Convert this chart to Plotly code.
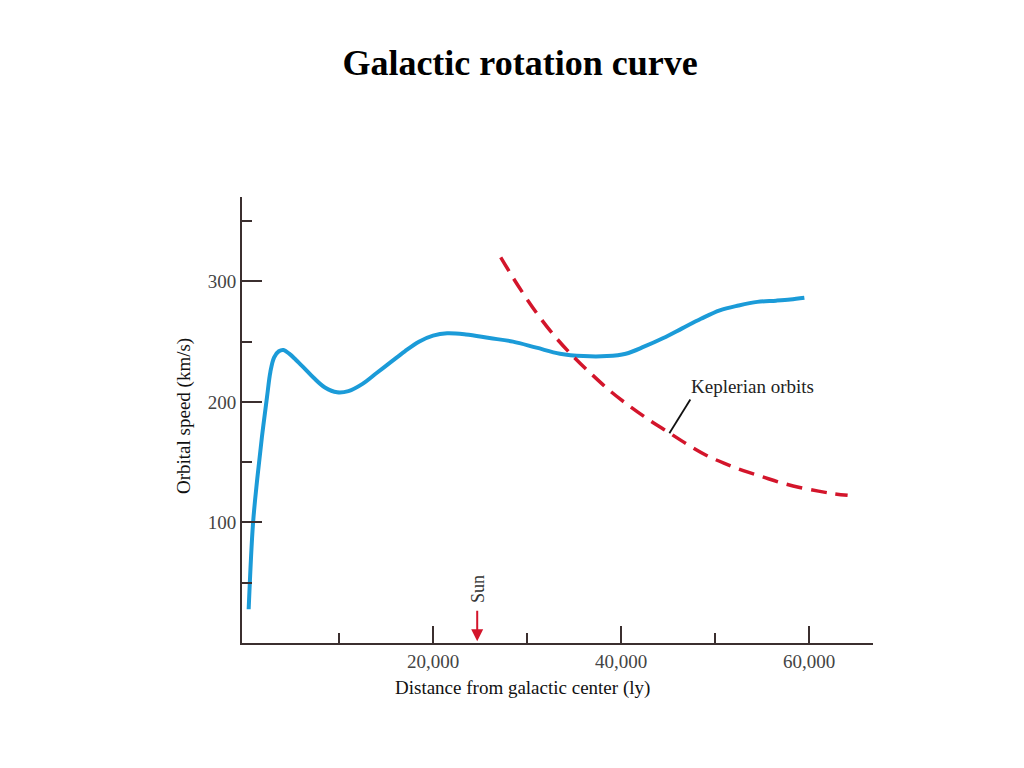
import plotly.graph_objects as go

# Observed rotation curve (distance in ly, speed in km/s)
obs_x = [390, 850, 1300, 1800, 2340, 2700, 3100, 3600, 4100, 4700, 5400, 6300, 7300,
         8500, 9800, 11000, 12500, 14000, 15500, 17000, 18500, 20000, 21500, 23500,
         26000, 28500, 31000, 33500, 36000, 38500, 40500, 42500, 44500, 46500, 48500,
         50500, 52500, 54500, 56500, 58000, 59500]
obs_v = [28, 99, 136, 171, 204, 225, 237, 242, 243, 240, 235, 228, 220,
         212, 208, 209, 215, 224, 233, 242, 250, 255, 257, 256,
         253, 250, 245, 240, 238, 238, 240, 246, 253, 261, 269,
         276, 280, 283, 284, 285, 286.5]

# Keplerian prediction
kep_x = [27200, 29000, 31000, 33000, 35000, 37000, 39000, 41000, 43000, 45000, 47000,
         49000, 51000, 53000, 55000, 57000, 59000, 61000, 62500, 64100]
kep_v = [320, 297, 274, 254, 237, 222, 208, 196, 185, 175, 165,
         156, 149, 143, 138, 133, 129, 126, 124, 122.5]

x_major = [20000, 40000, 60000]
x_major_labels = ["20,000", "40,000", "60,000"]
x_minor = [10000, 30000, 50000]
y_major = [100, 200, 300]
y_minor = [50, 150, 250, 350]

sun_x = 24700

SERIF = "Liberation Serif, Times New Roman, serif"
AXC = "#3b2f2f"

fig = go.Figure()
fig.add_trace(go.Scatter(x=obs_x, y=obs_v, mode="lines", line_shape="spline",
                         line=dict(color="#1b9bd8", width=4, smoothing=1),
                         hoverinfo="skip", showlegend=False))
fig.add_trace(go.Scatter(x=kep_x, y=kep_v, mode="lines", line_shape="spline",
                         line=dict(color="#d3152b", width=3.5, dash="16px,9px"),
                         hoverinfo="skip", showlegend=False))

fig.update_layout(
    width=1024, height=768,
    margin=dict(l=234, r=159, t=189, b=133),
    paper_bgcolor="white", plot_bgcolor="white",
    title=dict(text="<b>Galactic rotation curve</b>", x=0.5, xanchor="center",
               y=1 - 54 / 768, yanchor="middle", yref="container",
               font=dict(family=SERIF, size=36, color="black")),
)

fig.update_xaxes(range=[-320, 66800], showgrid=False, zeroline=False,
                 showline=True, linecolor=AXC, linewidth=2,
                 tickmode="array", tickvals=x_major, ticktext=x_major_labels,
                 ticks="inside", ticklen=17, tickwidth=2, tickcolor=AXC,
                 tickfont=dict(family=SERIF, size=19, color="#444"),
                 minor=dict(tickmode="array", tickvals=x_minor, ticks="inside",
                            ticklen=10, tickwidth=2, tickcolor=AXC),
                 fixedrange=True)
fig.update_yaxes(range=[0, 370], showgrid=False, zeroline=False,
                 showline=True, linecolor=AXC, linewidth=2,
                 tickmode="array", tickvals=y_major,
                 ticks="inside", ticklen=20, tickwidth=2, tickcolor=AXC,
                 tickfont=dict(family=SERIF, size=19, color="#444"),
                 minor=dict(tickmode="array", tickvals=y_minor, ticks="inside",
                            ticklen=10, tickwidth=2, tickcolor=AXC),
                 fixedrange=True)

# axis titles
fig.add_annotation(text="Distance from galactic center (ly)", xref="paper", yref="paper",
                   x=(521 - 241) / 631, y=-(688 - 643) / 446, showarrow=False,
                   font=dict(family=SERIF, size=19, color="#111"),
                   xanchor="center", yanchor="middle")
fig.add_annotation(text="Orbital speed (km/s)", xref="paper", yref="paper",
                   x=-(241 - 183) / 631, y=(643 - 416) / 446, showarrow=False,
                   textangle=-90, font=dict(family=SERIF, size=19, color="#111"),
                   xanchor="center", yanchor="middle")

# Keplerian label and leader
fig.add_annotation(text="Keplerian orbits", x=53950, y=212.5, showarrow=False,
                   font=dict(family=SERIF, size=19, color="#222"),
                   xanchor="center", yanchor="middle")
fig.add_shape(type="line", x0=47370, y0=202, x1=45140, y1=174,
              line=dict(color="#111", width=1.8))

# Sun marker
fig.add_annotation(x=sun_x, y=1.5, ax=sun_x, ay=28, xref="x", yref="y",
                   axref="x", ayref="y", text="", showarrow=True,
                   arrowhead=2, arrowsize=1.2, arrowwidth=2, arrowcolor="#d3152b")
fig.add_annotation(text="Sun", x=sun_x + 100, y=45, showarrow=False, textangle=-90,
                   font=dict(family=SERIF, size=18, color="#333"),
                   xanchor="center", yanchor="middle")

fig.write_html("out.html")
